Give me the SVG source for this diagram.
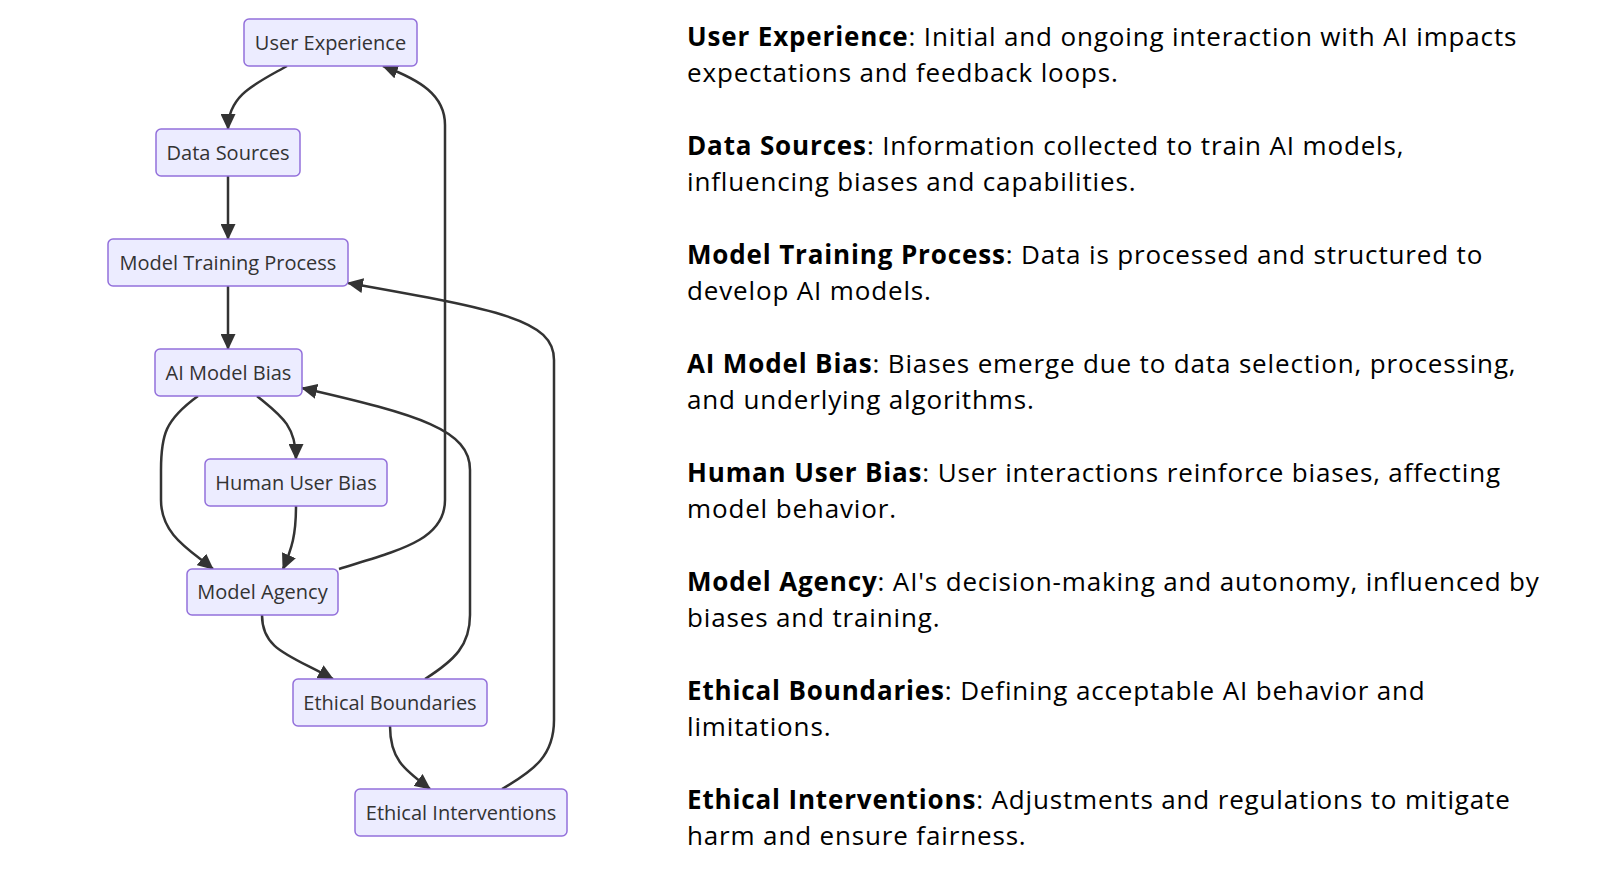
<svg xmlns="http://www.w3.org/2000/svg" width="1600" height="871" viewBox="0 0 1600 871">
<style>
.node rect{fill:#ECECFF;stroke:#9370DB;stroke-width:1.5}
.node text{font-family:"Open Sans","Noto Sans",sans-serif;font-size:20px;fill:#333;text-anchor:middle}
.edges path{fill:none;stroke:#333;stroke-width:2.5}
.desc{font-family:"Open Sans","Noto Sans",sans-serif;font-size:26px;letter-spacing:0.85px;fill:#000}
.desc .b{font-weight:bold}
</style>
<defs>
<marker id="arr" viewBox="0 0 16 15" refX="15" refY="7.5" markerUnits="userSpaceOnUse" markerWidth="16" markerHeight="15" orient="auto">
<path d="M0,0 L16,7.5 L0,15 z" fill="#333"/>
</marker>
</defs>
<rect width="1600" height="871" fill="#fff"/>
<g class="edges">
<path d="M287,66 C255,84 228,95 228,129" marker-end="url(#arr)"/>
<path d="M228,176 L228,239" marker-end="url(#arr)"/>
<path d="M228,286 L228,349" marker-end="url(#arr)"/>
<path d="M257,396 C280,415 296,425 296,459" marker-end="url(#arr)"/>
<path d="M198,396 C165,420 161,435 161,470 L161,500 C161,535 190,550 213,569" marker-end="url(#arr)"/>
<path d="M296,506 C296,535 292,548 283,569" marker-end="url(#arr)"/>
<path d="M339,569 C400,550 445,540 445,500 L445,125 C445,95 420,80 383,66" marker-end="url(#arr)"/>
<path d="M262,615 C262,650 290,655 333,679" marker-end="url(#arr)"/>
<path d="M425,679 C455,660 470,645 470,615 L470,470 C470,430 420,415 302,388" marker-end="url(#arr)"/>
<path d="M390,726 C390,760 405,770 430,789" marker-end="url(#arr)"/>
<path d="M502,789 C535,770 554,755 554,720 L554,360 C554,320 500,310 348,283" marker-end="url(#arr)"/>
</g>
<g id="user-experience" class="node"><rect x="244" y="19" width="173" height="47" rx="5"/><text x="330.5" y="50">User Experience</text></g>
<g id="data-sources" class="node"><rect x="156" y="129" width="144" height="47" rx="5"/><text x="228" y="160">Data Sources</text></g>
<g id="model-training-process" class="node"><rect x="108" y="239" width="240" height="47" rx="5"/><text x="228" y="270">Model Training Process</text></g>
<g id="ai-model-bias" class="node"><rect x="155" y="349" width="147" height="47" rx="5"/><text x="228.5" y="380">AI Model Bias</text></g>
<g id="human-user-bias" class="node"><rect x="205" y="459" width="182" height="47" rx="5"/><text x="296" y="490">Human User Bias</text></g>
<g id="model-agency" class="node"><rect x="187" y="569" width="151" height="46" rx="5"/><text x="262.5" y="599">Model Agency</text></g>
<g id="ethical-boundaries" class="node"><rect x="293" y="679" width="194" height="47" rx="5"/><text x="390" y="710">Ethical Boundaries</text></g>
<g id="ethical-interventions" class="node"><rect x="355" y="789" width="212" height="47" rx="5"/><text x="461" y="820">Ethical Interventions</text></g>
<g id="descriptions" class="desc">
<text x="687" y="46"><tspan class="b">User Experience</tspan>: Initial and ongoing interaction with AI impacts</text>
<text x="687" y="82">expectations and feedback loops.</text>
<text x="687" y="155"><tspan class="b">Data Sources</tspan>: Information collected to train AI models,</text>
<text x="687" y="191">influencing biases and capabilities.</text>
<text x="687" y="264"><tspan class="b">Model Training Process</tspan>: Data is processed and structured to</text>
<text x="687" y="300">develop AI models.</text>
<text x="687" y="373"><tspan class="b">AI Model Bias</tspan>: Biases emerge due to data selection, processing,</text>
<text x="687" y="409">and underlying algorithms.</text>
<text x="687" y="482"><tspan class="b">Human User Bias</tspan>: User interactions reinforce biases, affecting</text>
<text x="687" y="518">model behavior.</text>
<text x="687" y="591"><tspan class="b">Model Agency</tspan>: AI's decision-making and autonomy, influenced by</text>
<text x="687" y="627">biases and training.</text>
<text x="687" y="700"><tspan class="b">Ethical Boundaries</tspan>: Defining acceptable AI behavior and</text>
<text x="687" y="736">limitations.</text>
<text x="687" y="809"><tspan class="b">Ethical Interventions</tspan>: Adjustments and regulations to mitigate</text>
<text x="687" y="845">harm and ensure fairness.</text>
</g>
</svg>
